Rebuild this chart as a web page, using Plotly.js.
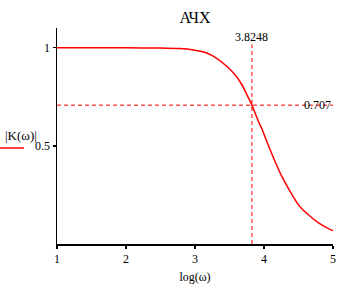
<!DOCTYPE html>
<html>
<head>
<meta charset="utf-8">
<script src="https://cdn.plot.ly/plotly-3.0.1.min.js"></script>
<style>html,body{margin:0;padding:0;background:#fff;}#chart{width:347px;height:284px;}</style>
</head>
<body>
<div id="chart"></div>
<script>
// Data (x = log(ω), y = |K(ω)|)
var logOmega = [1, 1.5, 2, 2.5, 2.78, 2.975, 3.17, 3.31, 3.46, 3.58, 3.68, 3.75, 3.8248, 3.92, 3.975, 4.02, 4.06, 4.16, 4.26, 4.38, 4.50, 4.57, 4.64, 4.72, 4.79, 4.9, 5.0];
var magK     = [1, 1, 0.999, 0.998, 0.995, 0.988, 0.973, 0.947, 0.905, 0.862, 0.811, 0.762, 0.707, 0.624, 0.582, 0.541, 0.505, 0.42, 0.343, 0.267, 0.199, 0.172, 0.150, 0.126, 0.108, 0.085, 0.067];
var cutoffX = 3.8248;
var cutoffY = 0.707;
var xTicks = [1, 2, 3, 4, 5];
var yTicks = [0.5, 1];
var yTickText = ['0.5', '1'];

var serif = 'Liberation Serif';
var red = '#ff0000';

var trace = {
  x: logOmega, y: magK, type: 'scatter', mode: 'lines',
  line: {color: red, width: 1.5, shape: 'spline', smoothing: 0.6},
  hoverinfo: 'none', showlegend: false
};

var layout = {
  width: 347, height: 284,
  margin: {l: 57, r: 14, t: 28, b: 40, pad: 0},
  paper_bgcolor: '#fff', plot_bgcolor: '#fff',
  showlegend: false,
  font: {family: serif, size: 12, color: '#000'},
  title: {text: 'АЧХ', font: {family: serif, size: 16, color: '#000'},
          x: 0.562, xanchor: 'center', y: 0.94, yanchor: 'middle'},
  xaxis: {
    range: [1, 5], tickvals: xTicks, ticktext: xTicks.map(String),
    showline: true, linecolor: '#000', linewidth: 1.5,
    ticks: 'outside', ticklen: 3, tickcolor: '#000', tickwidth: 1.5,
    showgrid: false, zeroline: false,
    tickfont: {family: serif, size: 12, color: '#000'},
    title: {text: 'log(ω)', font: {family: serif, size: 12, color: '#000'}, standoff: 10}
  },
  yaxis: {
    range: [0, 1.1], tickvals: yTicks, ticktext: yTickText,
    showline: true, linecolor: '#000', linewidth: 1.5,
    ticks: 'outside', ticklen: 3, tickcolor: '#000', tickwidth: 1.5,
    showgrid: false, zeroline: false,
    tickfont: {family: serif, size: 12, color: '#000'}
  },
  shapes: [
    {type: 'line', xref: 'x', yref: 'y', x0: cutoffX, x1: cutoffX, y0: 0, y1: 1.1,
     line: {color: red, width: 1, dash: '4px,3px'}},
    {type: 'line', xref: 'x', yref: 'y', x0: 1, x1: 5, y0: cutoffY, y1: cutoffY,
     line: {color: red, width: 1, dash: '4px,3px'}},
    {type: 'line', xref: 'paper', yref: 'paper', x0: -57/276, x1: -33/276, y0: (244-148)/216, y1: (244-148)/216,
     line: {color: red, width: 1.5}}
  ],
  annotations: [
    {x: cutoffX, y: 1.056, xref: 'x', yref: 'y', text: String(cutoffX), showarrow: false,
     xanchor: 'center', yanchor: 'middle',
     font: {family: serif, size: 12, color: '#000'}, bgcolor: '#fff', borderpad: 0},
    {x: 4.78, y: cutoffY, xref: 'x', yref: 'y', text: String(cutoffY), showarrow: false,
     xanchor: 'center', yanchor: 'middle',
     font: {family: serif, size: 12, color: '#000'}},
    {x: -36/276, y: (244-135)/216, xref: 'paper', yref: 'paper', text: '|K(ω)|', showarrow: false,
     xanchor: 'center', yanchor: 'middle',
     font: {family: serif, size: 13, color: '#000'}}
  ]
};

Plotly.newPlot('chart', [trace], layout, {staticPlot: true, displayModeBar: false});
</script>
</body>
</html>
